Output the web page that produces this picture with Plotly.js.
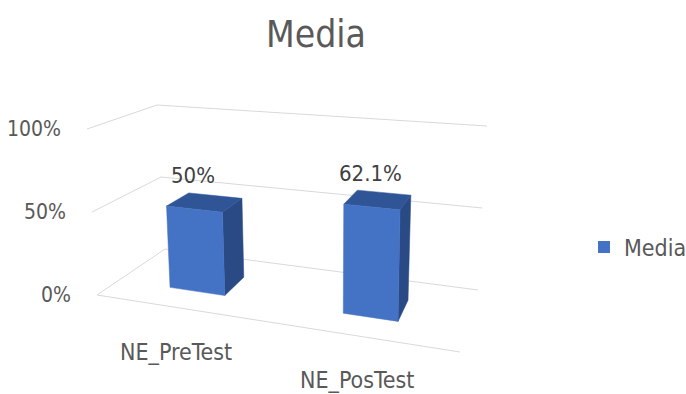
<!DOCTYPE html>
<html>
<head>
<meta charset="utf-8">
<script src="https://cdn.plot.ly/plotly-3.0.1.min.js"></script>
<style>html,body{margin:0;padding:0;background:#fff;}#chart{width:686px;height:394px;}</style>
</head>
<body>
<div id="chart"></div>
<script>
// ---- data ----
var categories = ['NE_PreTest', 'NE_PosTest'];
var seriesName = 'Media';
var values = [0.50, 0.621];
var tickValues = [0, 0.5, 1];
var tickLabels = ['0%', '50%', '100%'];

// ---- perspective frame of the 3D box (screen px of its corners) ----
var C = {
  fl0: [97, 295], fl1: [87, 129],   // front-left  bottom / top
  bl0: [165, 249], bl1: [157, 105], // back-left
  br0: [478, 290], br1: [487, 126], // back-right
  fr0: [460, 352], fr1: [465, 157]  // front-right
};
function lerp(a, b, t) { return [a[0] + (b[0] - a[0]) * t, a[1] + (b[1] - a[1]) * t]; }
// X: 0..1 across categories, D: 0 front .. 1 back, Z: value 0..1
function P(X, D, Z) {
  var f0 = lerp(C.fl0, C.fr0, X), f1 = lerp(C.fl1, C.fr1, X);
  var b0 = lerp(C.bl0, C.br0, X), b1 = lerp(C.bl1, C.br1, X);
  var bot = lerp(f0, b0, D), top = lerp(f1, b1, D);
  return lerp(bot, top, Z);
}

var FONT = 'DejaVu Sans Condensed, Liberation Sans Narrow, sans-serif';
var GRAY = '#595959';
var GRID = '#D9D9D9';
var barW = 0.158, D0 = 0.33, D1 = 0.69, catShift = 0.45;

var traces = [];
// gridlines on back and side walls
var gx = [], gy = [];
tickValues.forEach(function (t) {
  [P(0, 0, t), P(0, 1, t), P(1, 1, t)].forEach(function (p) { gx.push(p[0]); gy.push(p[1]); });
  gx.push(null); gy.push(null);
});
// front floor edge
[P(0, 0, 0), P(1, 0, 0)].forEach(function (p) { gx.push(p[0]); gy.push(p[1]); });
traces.push({type: 'scatter', mode: 'lines', x: gx, y: gy, line: {color: GRID, width: 1},
  hoverinfo: 'skip', showlegend: false});

function face(list, color) {
  var xs = [], ys = [];
  list.forEach(function (poly) {
    poly.forEach(function (p) { xs.push(p[0]); ys.push(p[1]); });
    xs.push(poly[0][0]); ys.push(poly[0][1]);
    xs.push(null); ys.push(null);
  });
  return {type: 'scatter', mode: 'lines', x: xs, y: ys, fill: 'toself', fillcolor: color,
    line: {color: color, width: 0.5}, hoverinfo: 'skip', showlegend: false};
}
var fronts = [], sides = [], tops = [];
var n = categories.length;
values.forEach(function (v, i) {
  var xc = (i + catShift) / n, X0 = xc - barW / 2, X1 = xc + barW / 2;
  fronts.push([P(X0, D0, 0), P(X1, D0, 0), P(X1, D0, v), P(X0, D0, v)]);
  sides.push([P(X1, D0, 0), P(X1, D1, 0), P(X1, D1, v), P(X1, D0, v)]);
  tops.push([P(X0, D0, v), P(X1, D0, v), P(X1, D1, v), P(X0, D1, v)]);
});
traces.push(face(sides, '#2A4A86'));
traces.push(face(tops, '#2F5597'));
traces.push(face(fronts, '#4472C4'));
// legend entry
traces.push({type: 'bar', x: [null], y: [null], name: seriesName, marker: {color: '#4472C4'}, showlegend: true});

var ann = [];
tickValues.forEach(function (t, k) {
  var p = P(0, 0, t);
  ann.push({x: p[0] - 24, y: p[1], text: tickLabels[k], showarrow: false, xanchor: 'right', yanchor: 'middle',
    font: {family: FONT, size: 21, color: GRAY}});
});
values.forEach(function (v, i) {
  var xc = (i + catShift) / n;
  var pt = P(xc, D0, v);
  var txt = (Math.round(v * 1000) / 10) + '%';
  ann.push({x: pt[0] - 1, y: pt[1] - 34, text: txt, showarrow: false, xanchor: 'center', yanchor: 'middle',
    font: {family: FONT, size: 22, color: '#404040'}});
  var pb = P(xc, 0, 0);
  ann.push({x: pb[0] - 3, y: pb[1] + 44, text: categories[i], showarrow: false, xanchor: 'center', yanchor: 'middle',
    font: {family: FONT, size: 23, color: GRAY}});
});

var layout = {
  width: 686, height: 394,
  margin: {l: 0, r: 0, t: 0, b: 0, autoexpand: false},
  paper_bgcolor: '#fff', plot_bgcolor: '#fff',
  title: {text: 'Media', font: {family: FONT, size: 37, color: GRAY}, x: 316 / 686, xanchor: 'center',
    y: 1 - 34 / 394, yanchor: 'middle', xref: 'paper', yref: 'container'},
  xaxis: {range: [0, 686], visible: false, fixedrange: true},
  yaxis: {range: [394, 0], visible: false, fixedrange: true},
  showlegend: true,
  legend: {x: 584 / 686, xanchor: 'left', y: 1 - 247 / 394, yanchor: 'middle', bgcolor: 'rgba(0,0,0,0)',
    font: {family: FONT, size: 23, color: GRAY}, itemwidth: 30},
  annotations: ann
};
Plotly.newPlot('chart', traces, layout, {displayModeBar: false, staticPlot: true});
</script>
</body>
</html>
